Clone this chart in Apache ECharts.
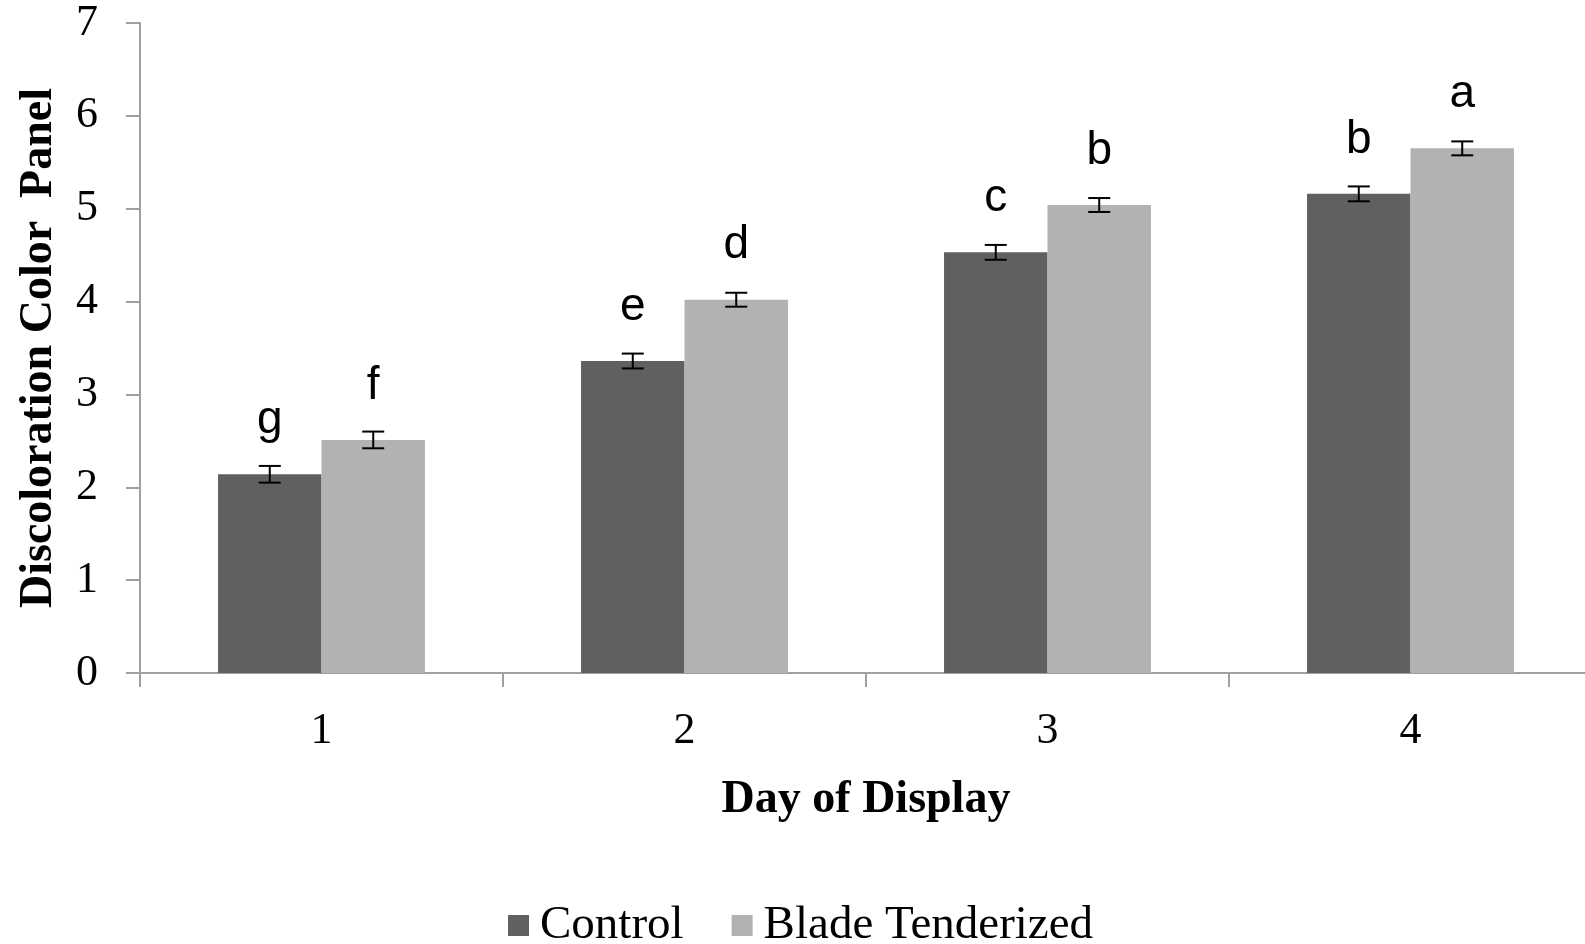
<!DOCTYPE html>
<html>
<head>
<meta charset="utf-8">
<script src="https://cdn.jsdelivr.net/npm/echarts@6/dist/echarts.min.js"></script>
<style>
html,body{margin:0;padding:0;background:#fff;}
#chart{width:1585px;height:944px;}
</style>
</head>
<body>
<div id="chart"></div>
<script>
const categories = ['1', '2', '3', '4'];
const controlValues = [2.14, 3.36, 4.53, 5.16];
const controlErrors = [0.09, 0.08, 0.08, 0.08];
const controlLetters = ['g', 'e', 'c', 'b'];
const bladeValues = [2.51, 4.02, 5.04, 5.65];
const bladeErrors = [0.09, 0.075, 0.075, 0.075];
const bladeLetters = ['f', 'd', 'b', 'a'];
const yTicks = [0, 1, 2, 3, 4, 5, 6, 7];

const serif = '"Liberation Serif", "Times New Roman", serif';
const sans = '"Liberation Sans", Arial, sans-serif';
const CAT_GAP = 0.43;

function errSeries(values, errors, side) {
  return {
    type: 'custom',
    silent: true,
    z: 10,
    data: values.map((v, i) => [i, v, errors[i]]),
    renderItem: function (params, api) {
      const idx = api.value(0), v = api.value(1), e = api.value(2);
      const band = api.size([1, 0])[0];
      const barW = band * (1 - CAT_GAP) / 2;
      const off = side * barW / 2;
      const t = api.coord([idx, v + e]);
      const b = api.coord([idx, v - e]);
      const x = t[0] + off;
      const hw = 11;
      const st = { stroke: '#000', lineWidth: 2 };
      return {
        type: 'group',
        children: [
          { type: 'line', shape: { x1: x, y1: t[1], x2: x, y2: b[1] }, style: st },
          { type: 'line', shape: { x1: x - hw, y1: t[1], x2: x + hw, y2: t[1] }, style: st },
          { type: 'line', shape: { x1: x - hw, y1: b[1], x2: x + hw, y2: b[1] }, style: st }
        ]
      };
    }
  };
}

function letterLabel(letters) {
  return {
    show: true,
    position: 'top',
    distance: 31,
    fontFamily: sans,
    fontSize: 46,
    color: '#000',
    formatter: p => letters[p.dataIndex]
  };
}

const chart = echarts.init(document.getElementById('chart'), null, { renderer: 'canvas' });
chart.setOption({
  animation: false,
  backgroundColor: '#fff',
  grid: { left: 140, right: -7, top: 23, bottom: 271, containLabel: false, outerBoundsMode: 'none' },
  legend: {
    left: 503,
    top: 897,
    itemWidth: 21,
    itemHeight: 21,
    itemGap: 48,
    icon: 'rect',
    textStyle: { fontFamily: serif, fontSize: 47, color: '#000', padding: [0, 0, 0, 6] },
    data: ['Control', 'Blade Tenderized']
  },
  xAxis: {
    type: 'category',
    data: categories,
    name: 'Day of Display',
    nameLocation: 'middle',
    nameGap: 104,
    nameTextStyle: { fontFamily: serif, fontSize: 46, fontWeight: 'bold', color: '#000' },
    axisLine: { lineStyle: { color: '#a0a0a0', width: 2 } },
    axisTick: { show: true, length: 14, lineStyle: { color: '#a0a0a0', width: 2 } },
    axisLabel: { margin: 36, fontFamily: serif, fontSize: 44, color: '#000' }
  },
  yAxis: {
    type: 'value',
    min: 0,
    max: 7,
    interval: 1,
    name: 'Discoloration Color  Panel',
    nameLocation: 'middle',
    nameGap: 78,
    nameTextStyle: { fontFamily: serif, fontSize: 46, fontWeight: 'bold', color: '#000' },
    splitLine: { show: false },
    axisLine: { show: true, lineStyle: { color: '#a0a0a0', width: 2 } },
    axisTick: { show: true, length: 14, lineStyle: { color: '#a0a0a0', width: 2 } },
    axisLabel: {
      margin: 42, fontFamily: serif, fontSize: 44, color: '#000',
      formatter: v => (yTicks.indexOf(v) >= 0 ? String(v) : '')
    }
  },
  series: [
    {
      name: 'Control',
      type: 'bar',
      data: controlValues,
      barGap: '0%',
      barCategoryGap: (CAT_GAP * 100) + '%',
      itemStyle: { color: '#606060' },
      label: letterLabel(controlLetters)
    },
    {
      name: 'Blade Tenderized',
      type: 'bar',
      data: bladeValues,
      barGap: '0%',
      barCategoryGap: (CAT_GAP * 100) + '%',
      itemStyle: { color: '#b2b2b2' },
      label: letterLabel(bladeLetters)
    },
    errSeries(controlValues, controlErrors, -1),
    errSeries(bladeValues, bladeErrors, 1)
  ]
});
</script>
</body>
</html>
